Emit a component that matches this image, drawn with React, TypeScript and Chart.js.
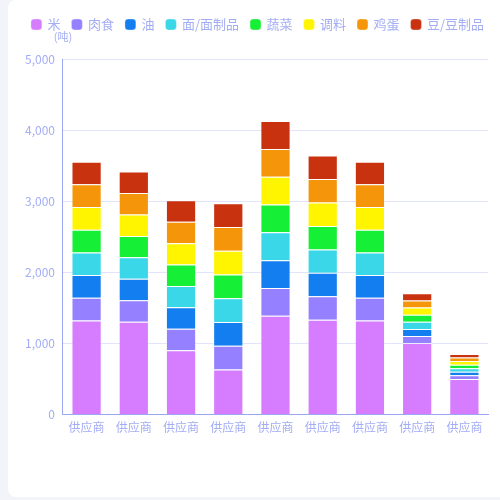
import { useEffect, useRef } from 'react';
import Chart from 'chart.js/auto';

// 类目与系列数据（单位：吨）
const categories = ['供应商', '供应商', '供应商', '供应商', '供应商', '供应商', '供应商', '供应商', '供应商'];
const seriesNames = ['米', '肉食', '油', '面/面制品', '蔬菜', '调料', '鸡蛋', '豆/豆制品'];
const seriesColors = ['#d67cff', '#9580ff', '#127ef0', '#39d7e8', '#15ef35', '#fff500', '#f5960a', '#c9320f'];

const rice = [1324, 1305, 906, 634, 1390, 1333, 1324, 1005, 502];
const meat = [319, 302, 301, 334, 391, 330, 319, 100, 50];
const oil = [319, 302, 301, 334, 391, 330, 319, 100, 50];
const noodles = [319, 302, 301, 334, 391, 330, 319, 100, 50];
const vegetables = [319, 302, 301, 334, 391, 330, 319, 100, 50];
const seasoning = [319, 302, 301, 334, 391, 330, 319, 100, 50];
const eggs = [319, 302, 301, 334, 391, 330, 319, 100, 50];
const beans = [319, 302, 301, 334, 391, 330, 319, 100, 50];

const seriesValues = [rice, meat, oil, noodles, vegetables, seasoning, eggs, beans];

const yTicks = [0, 1000, 2000, 3000, 4000, 5000];

const textColor = '#a3adf4';
const axisColor = '#9ca6f2';
const gridColor = '#e1e4fb';
const fontFamily = "'Noto Sans CJK SC', 'Noto Sans', sans-serif";
const CANVAS_W = 492;

// 图例占满整个宽度（一行），下方留出单位的位置
const legendSpacing = {
  id: 'legendSpacing',
  beforeInit(chart: any) {
    const origFit = chart.legend.fit;
    chart.legend.fit = function () {
      this.maxWidth = CANVAS_W;
      origFit.bind(chart.legend)();
      this.height += 18;
    };
  },
  afterLayout(chart: any) {
    chart.legend.left = 4;
    chart.legend.right = CANVAS_W + 4;
  }
};

// 在 y 轴顶部画单位 "(吨)"
const unitPlugin = {
  id: 'unitLabel',
  afterDraw(chart: Chart) {
    const { ctx, chartArea } = chart;
    ctx.save();
    ctx.font = `11px ${fontFamily}`;
    ctx.fillStyle = textColor;
    ctx.textAlign = 'center';
    ctx.textBaseline = 'middle';
    ctx.fillText('(吨)', chartArea.left, chartArea.top - 22);
    ctx.restore();
  }
};

const StackedBarChart: React.FC = () => {
  const canvasRef = useRef<HTMLCanvasElement>(null);

  useEffect(() => {
    if (!canvasRef.current) return;
    const chart = new Chart(canvasRef.current, {
      type: 'bar',
      data: {
        labels: categories,
        datasets: seriesNames.map((name, i) => ({
          label: name,
          data: seriesValues[i],
          backgroundColor: seriesColors[i],
          borderColor: 'rgba(255, 255, 255, 0.3)',
          borderWidth: 1,
          categoryPercentage: 0.8,
          barPercentage: 0.8
        }))
      },
      options: {
        responsive: false,
        animation: false,
        layout: { padding: { top: 0, right: 12, left: 9, bottom: 0 } },
        plugins: {
          legend: {
            position: 'top',
            labels: {
              usePointStyle: true,
              pointStyle: 'rectRounded',
              boxWidth: 9,
              boxHeight: 9,
              padding: 12,
              color: textColor,
              font: { size: 13, family: fontFamily }
            }
          },
          tooltip: { enabled: false }
        },
        scales: {
          x: {
            stacked: true,
            grid: { display: false, drawTicks: false },
            border: { color: axisColor, width: 1 },
            ticks: { color: textColor, padding: 6, font: { size: 12, family: fontFamily } }
          },
          y: {
            stacked: true,
            min: 0,
            max: 5000,
            afterBuildTicks: (axis) => {
              axis.ticks = yTicks.map((v) => ({ value: v }));
            },
            grid: { color: gridColor, drawTicks: false },
            border: { color: axisColor, width: 1 },
            ticks: { color: textColor, padding: 8, font: { size: 12, family: fontFamily } }
          }
        }
      },
      plugins: [legendSpacing, unitPlugin]
    });
    return () => chart.destroy();
  }, []);

  return <canvas ref={canvasRef} width={CANVAS_W} height={435} />;
};

export default function App() {
  return (
    <div style={{ position: 'fixed', inset: 0, background: '#f3f4f9' }}>
      <div
        style={{
          position: 'absolute',
          left: 8,
          top: 0,
          width: 510,
          height: 497,
          background: '#ffffff',
          borderRadius: 8
        }}
      >
        <div style={{ position: 'absolute', left: 0, top: 6 }}>
          <StackedBarChart />
        </div>
      </div>
    </div>
  );
}
